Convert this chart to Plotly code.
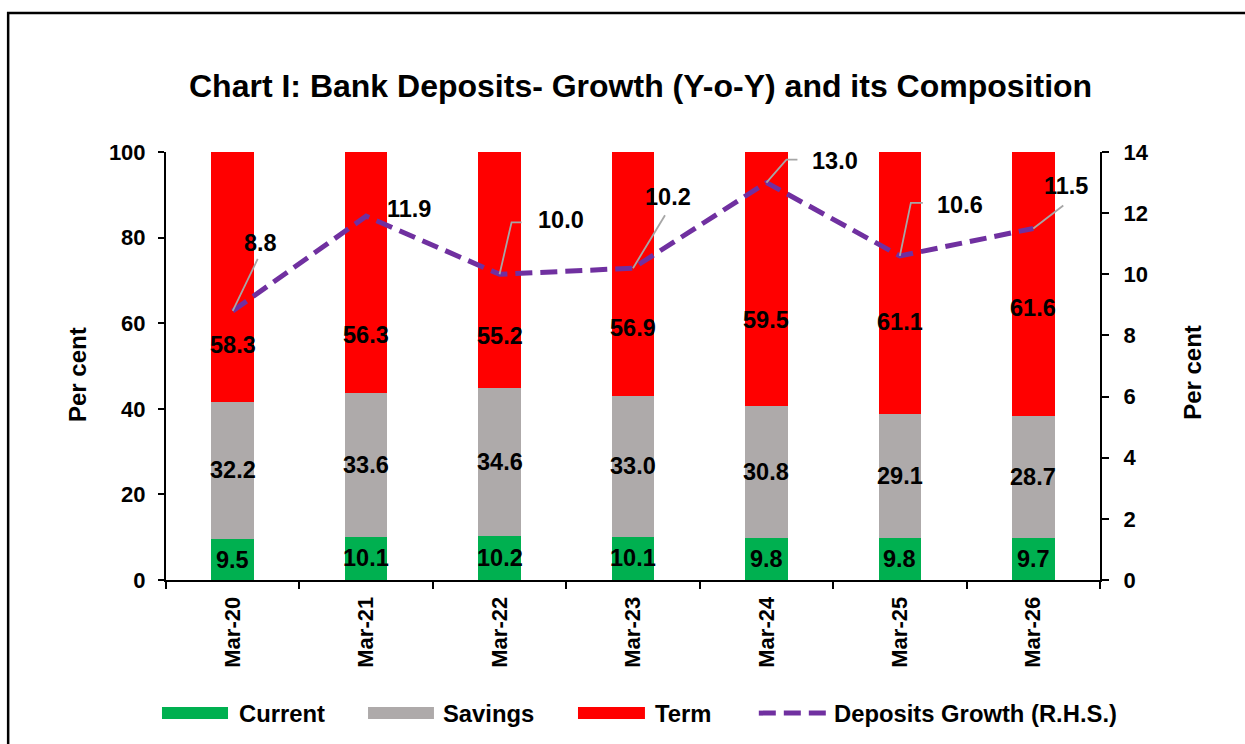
import plotly.graph_objects as go

# ---------------- data ----------------
categories = ["Mar-20", "Mar-21", "Mar-22", "Mar-23", "Mar-24", "Mar-25", "Mar-26"]
current = [9.5, 10.1, 10.2, 10.1, 9.8, 9.8, 9.7]
savings = [32.2, 33.6, 34.6, 33.0, 30.8, 29.1, 28.7]
term = [58.3, 56.3, 55.2, 56.9, 59.5, 61.1, 61.6]
growth = [8.8, 11.9, 10.0, 10.2, 13.0, 10.6, 11.5]

series_names = ["Current", "Savings", "Term", "Deposits Growth (R.H.S.)"]
colors = ["#00B050", "#AEAAAA", "#FF0000", "#7030A0"]

left_ticks = [0, 20, 40, 60, 80, 100]
right_ticks = [0, 2, 4, 6, 8, 10, 12, 14]

# label placement (layout only)
term_label_y = [54.9, 57.2, 57.0, 58.9, 60.8, 60.2, 63.6]          # left-axis units
growth_label_shift = [(28, 68), (43, 7), (61, 54), (35, 71), (69, 22), (60, 51), (33, 42)]  # px
growth_leader = ["M0,0 L25,52", None, "M0,0 L12,52 L22,52", "M0,0 L32,53",
                 "M0,0 L20,23 L31,23", "M0,0 L11,53 L23,53", "M0,0 L30,23"]

FONT = "Liberation Sans, Arial, sans-serif"
LBL = 23.5


def bold(size):
    return dict(size=size, color="black", family=FONT, weight="bold")


fig = go.Figure()
for name, vals, col in zip(series_names[:3], [current, savings, term], colors[:3]):
    fig.add_trace(go.Bar(x=categories, y=vals, name=name, marker=dict(color=col, line=dict(width=0)),
                         width=0.32, showlegend=False))
fig.add_trace(go.Scatter(x=categories, y=growth, name=series_names[3], yaxis="y2", mode="lines",
                         line=dict(color=colors[3], width=5, dash="17px,8px"), showlegend=False))

annotations = []
shapes = []

# bar segment labels and growth labels
for i, c in enumerate(categories):
    annotations.append(dict(x=c, y=current[i] / 2, xref="x", yref="y", text=f"{current[i]:.1f}",
                            showarrow=False, font=bold(LBL)))
    annotations.append(dict(x=c, y=current[i] + savings[i] / 2, xref="x", yref="y", text=f"{savings[i]:.1f}",
                            showarrow=False, font=bold(LBL)))
    annotations.append(dict(x=c, y=term_label_y[i], xref="x", yref="y", text=f"{term[i]:.1f}",
                            showarrow=False, font=bold(LBL)))
    dx, dy = growth_label_shift[i]
    annotations.append(dict(x=c, y=growth[i], xref="x", yref="y2", text=f"{growth[i]:.1f}",
                            xshift=dx, yshift=dy, showarrow=False, font=bold(LBL)))
    if growth_leader[i]:
        shapes.append(dict(type="path", xref="x", yref="y2", xsizemode="pixel", ysizemode="pixel",
                           xanchor=c, yanchor=growth[i], path=growth_leader[i],
                           line=dict(color="#A6A6A6", width=1.8)))

# title & axis titles
annotations.append(dict(x=0.5075, y=1.154, xref="paper", yref="paper", xanchor="center", yanchor="middle",
                        showarrow=False, text="Chart I: Bank Deposits- Growth (Y-o-Y) and its Composition",
                        font=bold(32)))
annotations.append(dict(x=-0.0942, y=0.479, xref="paper", yref="paper", xanchor="center", yanchor="middle",
                        showarrow=False, textangle=-90, text="Per cent", font=bold(24)))
annotations.append(dict(x=1.0996, y=0.484, xref="paper", yref="paper", xanchor="center", yanchor="middle",
                        showarrow=False, textangle=-90, text="Per cent", font=bold(24)))

# custom legend
ly = -0.311
sw_x = [(-0.0043, 0.0664), (0.2163, 0.2869), (0.4411, 0.5128), (0.6317, 0.7066)]
tx_x = [0.076, 0.2944, 0.5214, 0.7131]
for k in range(4):
    x0, x1 = sw_x[k]
    if k < 3:
        shapes.append(dict(type="rect", xref="paper", yref="paper", x0=x0, x1=x1, y0=ly - 0.014, y1=ly + 0.014,
                           fillcolor=colors[k], line=dict(width=0)))
    else:
        shapes.append(dict(type="line", xref="paper", yref="paper", x0=x0 + 0.003, x1=x1, y0=ly, y1=ly,
                           line=dict(color=colors[k], width=5, dash="17px,8px")))
    annotations.append(dict(x=tx_x[k], y=ly, xref="paper", yref="paper", xanchor="left", yanchor="middle",
                            showarrow=False, text=series_names[k], font=bold(23.8)))

# outer frame
shapes.append(dict(type="rect", xref="paper", yref="paper", x0=-0.169, x1=1.2, y0=-0.45, y1=1.325,
                   line=dict(color="black", width=2.5), fillcolor="rgba(0,0,0,0)", layer="below"))

tickfont = bold(22)
fig.update_layout(
    width=1245, height=744,
    margin=dict(l=166, r=145, t=152, b=164),
    paper_bgcolor="white", plot_bgcolor="white",
    barmode="stack",
    font=dict(family=FONT, color="black"),
    xaxis=dict(type="category", showline=True, linecolor="black", linewidth=2, ticks="outside",
               tickson="boundaries", ticklen=7, tickwidth=2, tickcolor="black", tickangle=-90,
               tickfont=tickfont, showgrid=False, zeroline=False, ticklabelstandoff=6),
    yaxis=dict(range=[0, 100], tickvals=left_ticks, showline=True, linecolor="black", linewidth=2,
               ticks="outside", ticklen=6, tickwidth=2, tickcolor="black", tickfont=tickfont,
               showgrid=False, zeroline=False, ticklabelstandoff=8),
    yaxis2=dict(range=[0, 14], tickvals=right_ticks, overlaying="y", side="right", showline=True,
                linecolor="black", linewidth=2, ticks="outside", ticklen=7, tickwidth=2, tickcolor="black",
                tickfont=tickfont, showgrid=False, zeroline=False, ticklabelstandoff=10),
    annotations=annotations, shapes=shapes, showlegend=False,
)

fig.write_html("out.html")
